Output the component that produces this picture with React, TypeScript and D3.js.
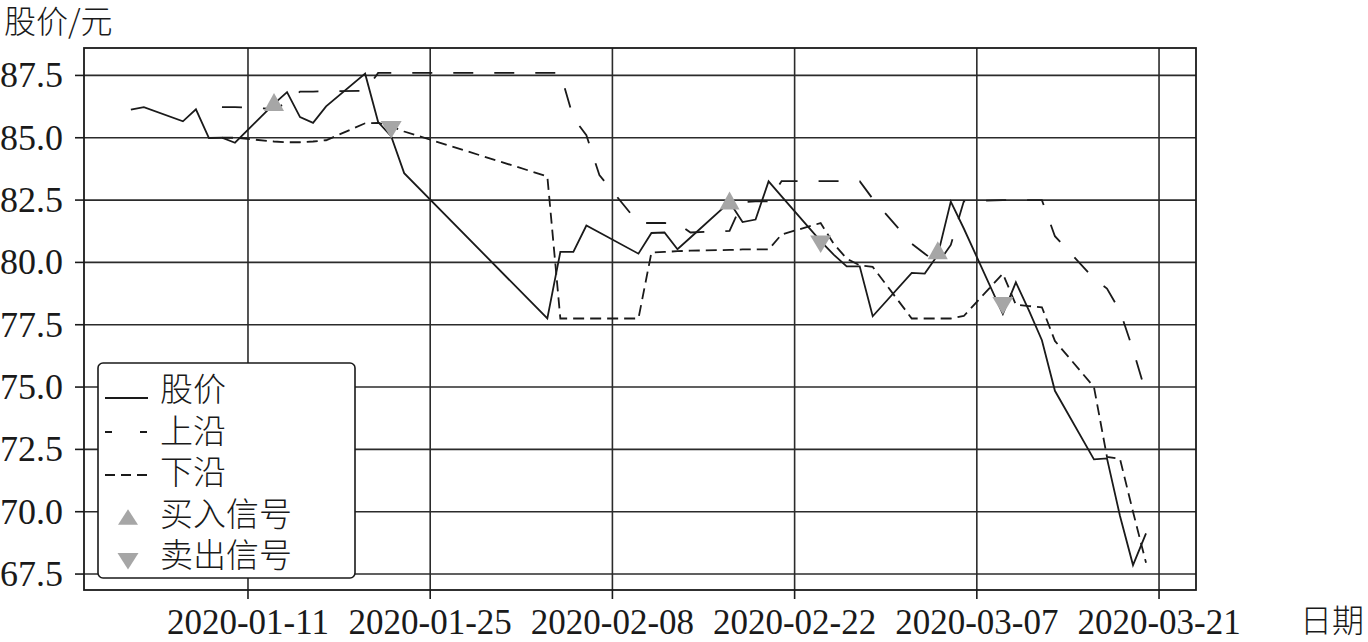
import React from "react";
import * as d3 from "d3";

// ---- data ----
const dates: string[] = [
  "2020-01-02", "2020-01-03", "2020-01-06", "2020-01-07", "2020-01-08", "2020-01-09", "2020-01-10",
  "2020-01-13", "2020-01-14", "2020-01-15", "2020-01-16", "2020-01-17", "2020-01-20", "2020-01-21",
  "2020-01-22", "2020-01-23",
  "2020-02-03", "2020-02-04", "2020-02-05", "2020-02-06", "2020-02-07", "2020-02-10", "2020-02-11",
  "2020-02-12", "2020-02-13", "2020-02-14", "2020-02-17", "2020-02-18", "2020-02-19", "2020-02-20",
  "2020-02-21", "2020-02-24", "2020-02-25", "2020-02-26", "2020-02-27", "2020-02-28",
  "2020-03-02", "2020-03-03", "2020-03-04", "2020-03-05", "2020-03-06", "2020-03-09", "2020-03-10",
  "2020-03-11", "2020-03-12", "2020-03-13", "2020-03-16", "2020-03-17", "2020-03-18", "2020-03-19",
  "2020-03-20",
];

const price: number[] = [
  86.13, 86.23, 85.66, 86.14, 84.99, 85.0, 84.8, 86.36, 86.83, 85.83, 85.6, 86.26, 87.57, 85.63, 85.06, 83.58,
  77.75, 80.42, 80.42, 81.48, 81.2, 80.35, 81.18, 81.2, 80.53, 81.0, 82.42, 81.62, 81.72, 83.25, 82.65, 80.85,
  80.31, 79.84, 79.84, 77.84,
  79.58, 79.55, 80.3, 82.44, 81.36, 77.93, 79.2, 78.08, 76.88, 74.85, 72.1, 72.14, 69.83, 67.86, 69.13,
];

const upper: (number | null)[] = [
  null, null, null, null, null, 86.23, 86.23, 86.16, 86.4, 86.85, 86.85, 86.87, 86.88, 87.6, 87.6, 87.6,
  87.6, 87.6, 85.8, 85.1, 83.5, 81.58, 81.58, 81.58, 81.56, 81.2, 81.26, 82.42, 82.45, 82.45, 83.26, 83.26,
  83.26, 83.26, 83.26, 82.55,
  80.75, 80.35, 79.95, 80.7, 82.45, 82.5, 82.5, 82.5, 82.5, 81.05, 79.35, 78.95, 78.05, 76.5, 74.75,
];

const lower: (number | null)[] = [
  null, null, null, null, null, 85.0, 85.0, 84.85, 84.82, 84.82, 84.85, 84.9, 85.58, 85.6, 85.45, 85.25,
  83.45, 77.75, 77.75, 77.75, 77.75, 77.75, 80.4, 80.42, 80.45, 80.47, 80.5, 80.52, 80.52, 80.52, 81.12, 81.58,
  80.75, 80.15, 79.88, 79.82,
  77.75, 77.75, 77.75, 77.75, 77.85, 79.55, 78.3, 78.25, 78.2, 76.85, 75.0, 72.2, 72.12, 70.0, 67.95,
];

const buyDates: string[] = ["2020-01-13", "2020-02-17", "2020-03-04"];
const buyValues: number[] = [86.43, 82.48, 80.49];
const sellDates: string[] = ["2020-01-22", "2020-02-24", "2020-03-09"];
const sellValues: number[] = [85.33, 80.74, 78.27];

const xTicks: string[] = ["2020-01-11", "2020-01-25", "2020-02-08", "2020-02-22", "2020-03-07", "2020-03-21"];
const yTicks: number[] = [67.5, 70.0, 72.5, 75.0, 77.5, 80.0, 82.5, 85.0, 87.5];

const legendLabels: string[] = ["股价", "上沿", "下沿", "买入信号", "卖出信号"];

const DAY = 86400000;
const FONT = '"Liberation Serif", "Times New Roman", "DejaVu Serif", "Noto Sans CJK SC", serif';
const CJK = '"Noto Sans CJK SC", "Liberation Serif", serif';
const GRAY = "#a6a6a6";
const INK = "#1a1a1a";

export default function App() {
  const parse = d3.utcParse("%Y-%m-%d");
  const L = 84, R = 1196, T = 48, B = 590;

  const x = d3
    .scaleUtc()
    .domain([new Date(Date.UTC(2020, 0, 11) - 12.6 * DAY), new Date(Date.UTC(2020, 2, 21) + 2.84 * DAY)])
    .range([L, R]);
  const y = d3.scaleLinear().domain([66.86, 88.6]).range([B, T]);

  const pts = dates.map((d, i) => ({ d: parse(d) as Date, p: price[i], u: upper[i], l: lower[i] }));

  const linePrice = d3.line<any>().x((d) => x(d.d)).y((d) => y(d.p));
  const lineUpper = d3
    .line<any>()
    .defined((d) => d.u != null)
    .x((d) => x(d.d))
    .y((d) => y(d.u));
  const lineLower = d3
    .line<any>()
    .defined((d) => d.l != null)
    .x((d) => x(d.d))
    .y((d) => y(d.l));

  const triUp = "M0,-9L10,9L-10,9Z";
  const triDown = "M0,9L10.5,-8.5L-10.5,-8.5Z";
  const fmt = d3.format(".1f");

  const upperDash = "20,21";
  const lowerDash = "11,6";

  const legX = 98, legY = 363, legW = 257, legH = 215;
  const rowBase = (i: number) => 401 + 41.5 * i;
  const sampleY = [398, 432, 475, 517, 561];

  const latin = { fontFamily: FONT };
  const cjk = { fontFamily: CJK, fontWeight: 300 as const };

  return (
    <svg width={1368} height={642} style={{ position: "absolute", left: 0, top: 0, background: "#fff" }}>
      <rect x={0} y={0} width={1368} height={642} fill="#fff" />
      {/* grid */}
      {yTicks.map((t) => (
        <line key={"gy" + t} x1={L} x2={R} y1={y(t)} y2={y(t)} stroke="#2b2b2b" strokeWidth={1.6} />
      ))}
      {xTicks.map((t) => (
        <line key={"gx" + t} x1={x(parse(t) as Date)} x2={x(parse(t) as Date)} y1={T} y2={B} stroke="#2b2b2b" strokeWidth={1.6} />
      ))}
      {/* frame */}
      <rect x={L} y={T} width={R - L} height={B - T} fill="none" stroke={INK} strokeWidth={1.8} />
      {/* ticks */}
      {yTicks.map((t) => (
        <g key={"ty" + t}>
          <line x1={L - 9} x2={L} y1={y(t)} y2={y(t)} stroke={INK} strokeWidth={1.6} />
          <text x={63} y={y(t) + 12} textAnchor="end" fontSize={36} fill={INK} style={latin}>
            {fmt(t)}
          </text>
        </g>
      ))}
      {xTicks.map((t) => (
        <g key={"tx" + t}>
          <line x1={x(parse(t) as Date)} x2={x(parse(t) as Date)} y1={B} y2={B + 9} stroke={INK} strokeWidth={1.6} />
          <text x={x(parse(t) as Date)} y={634} textAnchor="middle" fontSize={35} fill={INK} style={latin}>
            {t}
          </text>
        </g>
      ))}
      <text x={1300} y={632} fontSize={32} fill={INK} style={cjk}>日期</text>
      <text x={4} y={33} fontSize={32} fill={INK} style={cjk}>股价/元</text>

      {/* series */}
      <path d={lineUpper(pts) || ""} fill="none" stroke={INK} strokeWidth={1.8} strokeDasharray={upperDash} />
      <path d={lineLower(pts) || ""} fill="none" stroke={INK} strokeWidth={1.8} strokeDasharray={lowerDash} />
      <path d={linePrice(pts) || ""} fill="none" stroke={INK} strokeWidth={1.8} strokeLinejoin="miter" />

      {buyDates.map((d, i) => (
        <path key={"b" + d} d={triUp} transform={`translate(${x(parse(d) as Date)},${y(buyValues[i])})`} fill={GRAY} />
      ))}
      {sellDates.map((d, i) => (
        <path key={"s" + d} d={triDown} transform={`translate(${x(parse(d) as Date)},${y(sellValues[i])})`} fill={GRAY} />
      ))}

      {/* legend */}
      <rect x={legX} y={legY} width={legW} height={legH} rx={5} ry={5} fill="#fff" stroke={INK} strokeWidth={1.6} />
      <line x1={105} x2={148} y1={sampleY[0]} y2={sampleY[0]} stroke={INK} strokeWidth={1.8} />
      <line x1={105} x2={148} y1={sampleY[1]} y2={sampleY[1]} stroke={INK} strokeWidth={1.8} strokeDasharray="7,28" />
      <line x1={105} x2={148} y1={sampleY[2]} y2={sampleY[2]} stroke={INK} strokeWidth={1.8} strokeDasharray="10,6" />
      <path d={triUp} transform={`translate(128,${sampleY[3]}) scale(1,0.85)`} fill={GRAY} />
      <path d={triDown} transform={`translate(128,${sampleY[4]}) scale(1,0.95)`} fill={GRAY} />
      {legendLabels.map((s, i) => (
        <text key={s} x={160} y={rowBase(i)} fontSize={33} fill={INK} style={cjk}>
          {s}
        </text>
      ))}
    </svg>
  );
}
